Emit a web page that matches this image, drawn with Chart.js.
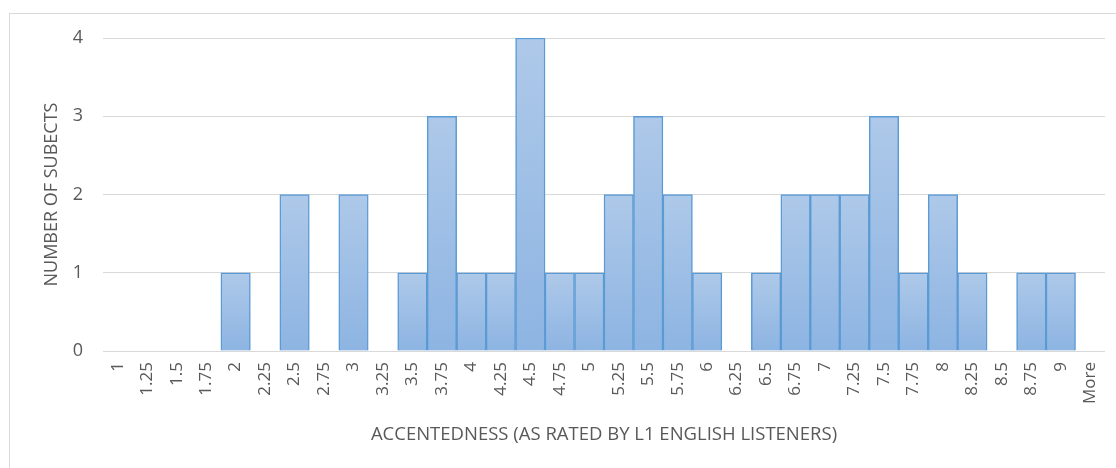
<!DOCTYPE html>
<html>
<head>
<meta charset="utf-8">
<script src="https://cdn.jsdelivr.net/npm/chart.js@4"></script>
<style>
  html, body { margin: 0; padding: 0; background: #fff; }
  #wrap { position: relative; width: 1116px; height: 468px; overflow: hidden; }
  #frame {
    position: absolute; left: 9px; top: 13px; width: 1200px; height: 600px;
    border: 1px solid #d9d9d9; box-sizing: border-box;
  }
  #chart { position: absolute; left: 0; top: 0; }
</style>
</head>
<body>
<div id="wrap">
  <div id="frame"></div>
  <canvas id="chart" width="1116" height="468"></canvas>
</div>
<script>
// Histogram bins (x categories) and counts
const bins = ["1", "1.25", "1.5", "1.75", "2", "2.25", "2.5", "2.75", "3", "3.25",
  "3.5", "3.75", "4", "4.25", "4.5", "4.75", "5", "5.25", "5.5", "5.75",
  "6", "6.25", "6.5", "6.75", "7", "7.25", "7.5", "7.75", "8", "8.25",
  "8.5", "8.75", "9", "More"];
const counts = [0, 0, 0, 0, 1, 0, 2, 0, 2, 0,
  1, 3, 1, 1, 4, 1, 1, 2, 3, 2,
  1, 0, 1, 2, 2, 2, 3, 1, 2, 1,
  0, 1, 1, 0];
const yTicks = [0, 1, 2, 3, 4];

const FONT = "'Open Sans', sans-serif";
const TEXT = "#595959";

// vertical gradient per bar, light on top, darker at the base
function barFill(context) {
  const chart = context.chart;
  const y = chart.scales.y;
  if (!chart.chartArea || !y || context.raw == null) return "#9dbde4";
  const top = y.getPixelForValue(context.raw);
  const bottom = y.getPixelForValue(0);
  if (bottom - top < 1) return "#9dbde4";
  const g = chart.ctx.createLinearGradient(0, top, 0, bottom);
  g.addColorStop(0, "#aec9e9");
  g.addColorStop(1, "#8db4e2");
  return g;
}

new Chart(document.getElementById("chart"), {
  type: "bar",
  data: {
    labels: bins,
    datasets: [{
      label: "Frequency",
      data: counts,
      backgroundColor: barFill,
      borderColor: "#5b9bd5",
      borderWidth: 1.5,
      categoryPercentage: 1.0,
      barPercentage: 1.0
    }]
  },
  options: {
    responsive: false,
    animation: false,
    layout: { padding: { top: 38, right: 11, bottom: 18, left: 37 } },
    plugins: {
      legend: { display: false },
      tooltip: { enabled: false }
    },
    scales: {
      x: {
        grid: { display: false, drawTicks: false },
        border: { display: false },
        ticks: {
          color: TEXT,
          font: { family: FONT, size: 17 },
          minRotation: 90,
          maxRotation: 90,
          autoSkip: false,
          padding: 11
        },
        title: {
          display: true,
          text: "ACCENTEDNESS (AS RATED BY L1 ENGLISH LISTENERS)",
          color: TEXT,
          font: { family: FONT, size: 18.5 },
          padding: { top: 4, bottom: 4 }
        },
        afterFit: (scale) => {
          scale.height = 99;
          scale.paddingLeft = 0;
          scale.paddingRight = 0;
        }
      },
      y: {
        min: 0,
        max: 4,
        afterBuildTicks: (scale) => { scale.ticks = yTicks.map(v => ({ value: v })); },
        grid: { color: "#d9d9d9", lineWidth: 1, drawTicks: false },
        border: { display: false },
        ticks: {
          color: TEXT,
          font: { family: FONT, size: 18 },
          padding: 20
        },
        title: {
          display: true,
          text: "NUMBER OF SUBECTS",
          color: TEXT,
          font: { family: FONT, size: 18 },
          padding: { top: 4, bottom: 4 }
        },
        afterFit: (scale) => { scale.width = 66; }
      }
    }
  }
});
</script>
</body>
</html>
